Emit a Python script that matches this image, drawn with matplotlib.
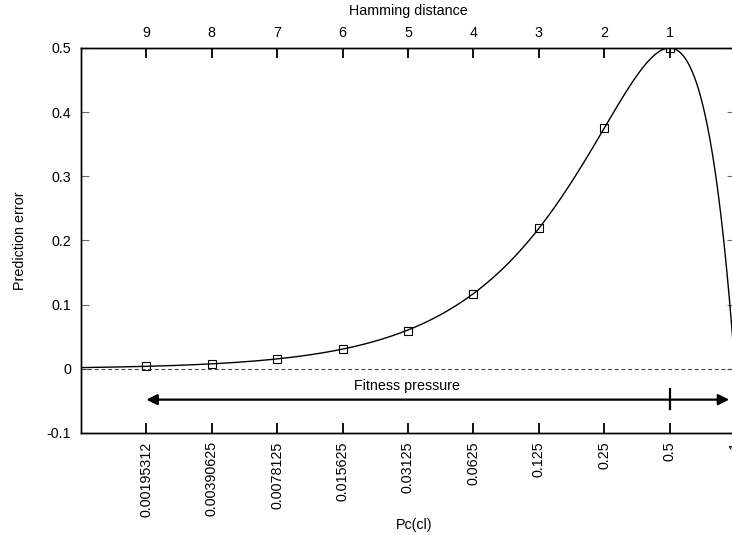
import numpy as np
import matplotlib
matplotlib.use('Agg')
import matplotlib.pyplot as plt

plt.rcParams['font.family'] = ['Liberation Sans', 'DejaVu Sans']

# Pc(cl) values at the tick positions and hamming distances on the top axis
pc_ticks = [0.00195312, 0.00390625, 0.0078125, 0.015625, 0.03125, 0.0625, 0.125, 0.25, 0.5, 1]
pc_labels = ['0.00195312', '0.00390625', '0.0078125', '0.015625', '0.03125', '0.0625', '0.125', '0.25', '0.5', '1']
hamming = [9, 8, 7, 6, 5, 4, 3, 2, 1]

# measured points (squares)
pc_points = [0.00195312, 0.00390625, 0.0078125, 0.015625, 0.03125, 0.0625, 0.125, 0.25, 0.5]
err_points = [0.0039, 0.0078, 0.0155, 0.0303, 0.0586, 0.117, 0.219, 0.375, 0.5]

# the plotted model curve: prediction error = 2 p (1 - p)
def pred_error(p):
    return 2 * p * (1 - p)

fs = 10.3
xmin, xmax = 2.0 ** -10, 1.0
px = np.logspace(-10, 0, 600, base=2)

fig = plt.figure(figsize=(7.32, 5.35), dpi=100)
ax = fig.add_axes([81 / 732, 102 / 535, 654 / 732, 385 / 535])

ax.plot(px, pred_error(px), color='black', lw=1.0)
ax.plot(pc_points, err_points, linestyle='none', marker='s', markersize=6,
        markerfacecolor='none', markeredgecolor='black', markeredgewidth=0.8)
ax.axhline(0, color='#444444', lw=0.8, linestyle=(0, (3.5, 2.5)))

# fitness pressure arrow
ax.annotate('', xy=(0.94, -0.048), xytext=(0.00195312, -0.048),
            arrowprops=dict(arrowstyle='<|-|>', color='black', lw=1.6,
                            mutation_scale=16, shrinkA=0, shrinkB=0))
ax.plot([0.5, 0.5], [-0.031, -0.063], color='black', lw=1.6)
ax.text(0.031, -0.027, 'Fitness pressure', ha='center', va='center', fontsize=fs)

ax.set_xscale('log', base=2)
ax.set_xlim(xmin, xmax)
ax.set_ylim(-0.1, 0.5)
ax.set_xticks(pc_ticks)
ax.set_xticklabels(pc_labels, rotation=90, fontsize=fs)
ax.minorticks_off()
ax.set_yticks([-0.1, 0, 0.1, 0.2, 0.3, 0.4, 0.5])
ax.set_yticklabels(['-0.1', '0', '0.1', '0.2', '0.3', '0.4', '0.5'], fontsize=fs)
ax.tick_params(axis='x', direction='in', length=7, width=1.3, pad=6)
ax.tick_params(axis='y', direction='in', length=6, width=0.8, color='#666666',
               right=True, pad=7)
ax.set_xlabel('Pc(cl)', fontsize=fs)
ax.xaxis.set_label_coords(0.509, -0.221)
ax.set_ylabel('Prediction error', fontsize=fs)
ax.yaxis.set_label_coords(-0.083, 0.5)

ax2 = ax.twiny()
ax2.set_xscale('log', base=2)
ax2.set_xlim(xmin, xmax)
ax2.set_xticks(pc_points)
ax2.set_xticklabels([str(h) for h in hamming], fontsize=fs)
ax2.minorticks_off()
ax2.tick_params(axis='x', direction='in', length=7, width=1.3, pad=6)
ax2.set_xlabel('Hamming distance', fontsize=fs, labelpad=8)

for a in (ax, ax2):
    for s in a.spines.values():
        s.set_linewidth(1.0)

fig.savefig('out.png', dpi=100)
